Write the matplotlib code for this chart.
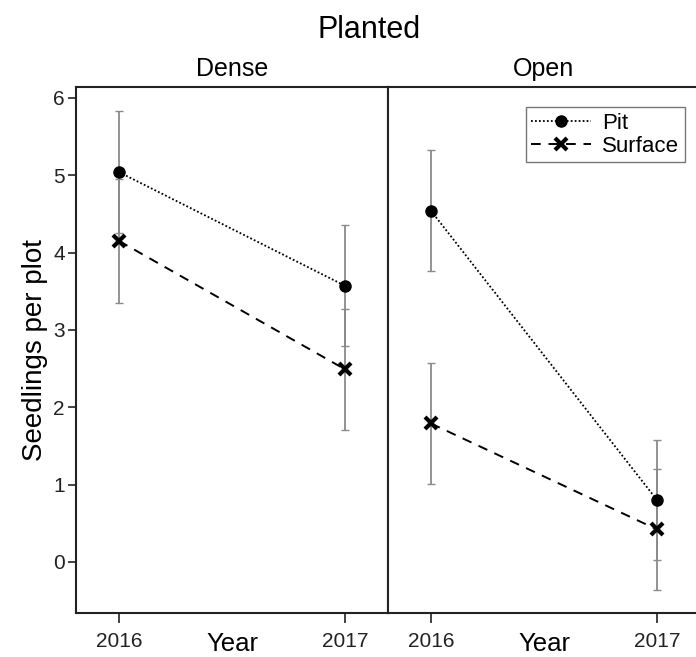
import matplotlib
matplotlib.use("Agg")
import matplotlib.pyplot as plt
import numpy as np

plt.rcParams['font.family'] = ['Liberation Sans', 'DejaVu Sans']

years = [2016, 2017]
panels = ["Dense", "Open"]
pit_mean = {"Dense": [5.04, 3.57], "Open": [4.54, 0.80]}
pit_err = {"Dense": [0.79, 0.78], "Open": [0.78, 0.78]}
surf_mean = {"Dense": [4.15, 2.49], "Open": [1.79, 0.42]}
surf_err = {"Dense": [0.80, 0.78], "Open": [0.78, 0.78]}
yticks = [0, 1, 2, 3, 4, 5, 6]

W, H = 696, 657
fig = plt.figure(figsize=(W / 100, H / 100), dpi=100)

def ax_rect(x0, x1, y0, y1):
    return [x0 / W, 1 - y1 / H, (x1 - x0) / W, (y1 - y0) / H]

axes = [fig.add_axes(ax_rect(76, 388, 87, 613)),
        fig.add_axes(ax_rect(388, 700, 87, 613))]

for i, (ax, p) in enumerate(zip(axes, panels)):
    ax.errorbar(years, pit_mean[p], yerr=pit_err[p], fmt='none', ecolor='#8a8a8a',
                elinewidth=1.3, capsize=3, capthick=1.0, zorder=1)
    ax.errorbar(years, surf_mean[p], yerr=surf_err[p], fmt='none', ecolor='#8a8a8a',
                elinewidth=1.3, capsize=3, capthick=1.0, zorder=1)
    ax.plot(years, pit_mean[p], color='black', linestyle=(0, (1, 1.2)), linewidth=1.3,
            marker='o', markersize=8, zorder=3, label='Pit')
    ax.plot(years, surf_mean[p], color='black', linestyle=(0, (5, 4)), linewidth=1.4,
            marker='x', markersize=8, markeredgewidth=3, zorder=3, label='Surface')
    ax.set_xlim(2015.81, 2017.19)
    ax.set_ylim(-0.66, 6.14)
    ax.set_xticks(years)
    ax.set_xticklabels([str(y) for y in years], fontsize=15)
    ax.tick_params(axis='x', direction='out', length=7, width=1.2, colors='#222222', pad=7)
    ax.set_title(p, fontsize=18, pad=8)
    for s in ax.spines.values():
        s.set_linewidth(1.5)
        s.set_color('#222222')
    if i == 0:
        ax.set_yticks(yticks)
        ax.set_yticklabels([str(v) for v in yticks], fontsize=15)
        ax.tick_params(axis='y', direction='out', length=6, width=1.2, colors='#222222', pad=2)
        ax.set_ylabel("Seedlings per plot", fontsize=20, labelpad=4)
    else:
        ax.set_yticks([])
    # axis label "Year" placed like the reference (near the bottom edge)
    cx = ax.get_position().x0 + 156 / W
    fig.text(cx, 1 - 656 / H, "Year", fontsize=18.5, ha='center', va='bottom')

leg = axes[1].legend(loc='upper right', bbox_to_anchor=(685 / W, 1 - 107 / H),
                     bbox_transform=fig.transFigure, fontsize=16, frameon=True,
                     fancybox=False, handlelength=2.7, handletextpad=0.5,
                     borderpad=0.25, labelspacing=0.1, borderaxespad=0)
leg.get_frame().set_edgecolor('#555555')
leg.get_frame().set_linewidth(1.0)

fig.text(369 / W, 1 - 30 / H, "Planted", fontsize=22, ha='center', va='center')

fig.savefig("out.png", dpi=100)
